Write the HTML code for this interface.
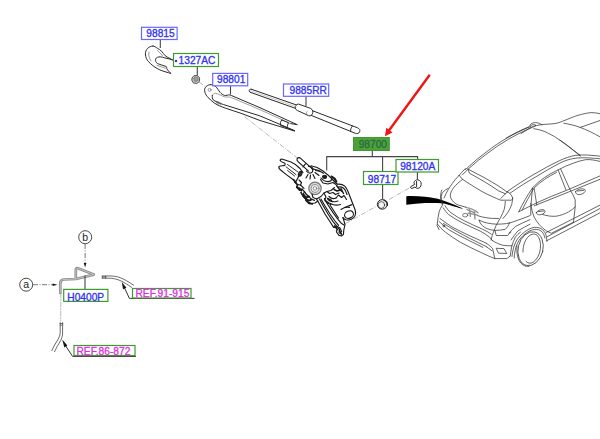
<!DOCTYPE html>
<html>
<head>
<meta charset="utf-8">
<style>
html,body{margin:0;padding:0;background:#fff;}
body{width:600px;height:439px;overflow:hidden;position:relative;font-family:"Liberation Sans",sans-serif;}
svg{position:absolute;left:0;top:0;}
text{font-family:"Liberation Sans",sans-serif;font-size:10.2px;}
.bl{stroke:#3030f2;stroke-width:0.3;}
.mg{stroke:#e22be2;stroke-width:0.3;}
.bl{fill:#3030f2;}
.mg{fill:#e22be2;}
.bb{fill:#fff;stroke:#6868ff;stroke-width:1.2;}
.gb{fill:#fff;stroke:#3f9a30;stroke-width:1.2;}
.ln{fill:none;stroke:#2a2a2a;stroke-width:1;stroke-linecap:round;stroke-linejoin:round;}
.lt{fill:none;stroke:#555;stroke-width:0.6;stroke-linecap:round;stroke-linejoin:round;}
.dd{fill:none;stroke:#888;stroke-width:0.6;stroke-dasharray:5 1.5 1 1.5;}
.ld{fill:none;stroke:#444;stroke-width:1.1;}
</style>
</head>
<body>
<svg width="600" height="439" viewBox="0 0 600 439">
<!-- CAP 98815 -->
<g class="ln">
<path d="M153 46C149 46 145.2 49.5 145.4 54C145.6 58 147 60 148.7 61.8C151.5 64.8 154 66.8 157.3 68.6C160.5 70.3 163.5 71.3 166 72C168 72.6 169.5 73 170.7 73.3"/>
<path d="M153 46C154.8 46.2 156 47.4 157.3 48.2C159 49.2 160.4 50 161.6 51.3C163 52.8 163.8 54.3 165.1 55.6C166.6 57 168.5 57.8 170.3 58.6L172.5 59.9"/>
<path d="M172.5 59.9C170.5 59.2 168 58.6 166 58.2C163.5 57.6 161.5 56.6 159 56.9C156.6 57.2 155.3 58.6 155.5 60.4C155.8 62.3 156.8 63.2 158.2 63.8C160.8 64.9 163.5 65.6 166 66.4C167 66.8 166.4 67.8 166.8 68.6C167.6 70.4 169.2 71.8 170.7 73.3"/>
</g>
<g class="lt">
<path d="M157.5 50.5C159.5 52 161 54 162.5 55.8"/>
<path d="M157 65.3C160 66.6 163 67.4 165.5 68.2"/>
<path d="M149 52C148.2 55 149 58 151 61"/>
</g>
<!-- NUT -->
<g>
<path d="M192 78L194 75.6L197.6 75.6L199.7 78L199.3 81.6L196.6 83.6L193.2 82.8L191.8 80.2Z" fill="#c4c4c4" stroke="#555" stroke-width="1"/>
<path d="M193.6 78.4L195.2 77L197.4 77.4L198.2 79.4L197 81.2L194.8 81.2Z" fill="#9c9c9c" stroke="#666" stroke-width="0.6"/>
<path class="dd" d="M199 82L205 86.3"/>
</g>
<!-- ARM 98801 -->
<g class="ln">
<path d="M210.3 84.6C207.3 85 204.4 87.2 204.6 90.3C204.8 92.8 205.8 94.8 207.2 96.4C209.2 98.8 211.6 101.2 214.4 103.1C217.8 105.3 221.6 106.8 225.6 108.2C230.6 110 236 111.6 241 113.3L260 120.5L294.5 131"/>
<path d="M210.3 84.6C212.8 84.6 214.9 85.6 216.4 87.2C217.9 88.8 218.6 90.8 220 92.3C221.3 93.7 222.8 94.9 224.6 95.4C226.3 95.8 228 94.7 229.7 94.9C231 95.1 232 95.8 233 96.2L260 107.7L297 124.6"/>
<path stroke="#777" stroke-width="0.7" d="M212.3 95.4C213 94 214 93.2 215.4 93.3C218.5 93.6 221.5 96 224.6 96.9C226.5 97.4 228.5 96.6 230.3 97.1L260 109.7L290.5 123.6"/>
<path d="M212.3 95.4C212 97.2 212.4 98.8 213.3 100C216.3 102.2 220 103.4 223.6 104.6L260 115.9L294.5 130.6"/>
<path d="M290.9 123.6L297 124.6M294.5 130.8L286.5 127.6"/>
<path d="M281.8 120C280.2 121.5 279.8 123.6 281 125.6"/>
<path d="M281.8 120L288.6 122.8C287.6 124.3 287.2 126 287.6 128L281 125.6"/>
</g>
<g class="lt">
<circle cx="209.6" cy="89.9" r="1.5"/>
<path d="M215.5 101L220.5 102.8L220.3 104.8M217 101.5V103.5M218.6 102.1V104.1"/>
</g>
<path class="dd" d="M244.5 116.6L298 158.5"/>
<!-- BLADE 9885RR -->
<g class="ln">
<path d="M251.3 89.2C249.8 88.9 248.8 90 249.3 91.2C249.6 92 250 92.2 250.6 92.4"/>
<path d="M251.3 89.2L296.5 105"/>
<path d="M250.6 92.4L295.3 108.3"/>
<path d="M312.7 110.8L357.3 127.7C359.8 128.8 360.4 130.2 359.6 131.8C358.8 133.6 357.3 134 355.3 133.3L311.2 115.4"/>
<path d="M352.4 126C351 127.8 350.4 129.5 350.6 131.3"/>
<path d="M298 104.1C296.2 104.4 295 106 295.3 107.9C295.6 109.4 296.4 110 297.4 110.5L308.5 115.6C310.5 116.3 311.8 115.4 312.4 113.8C313.2 111.8 313 109.9 311 108.6Z" fill="#fff"/>
</g>
<g class="lt">
<path d="M251 90.8L295.3 106.5" stroke="#aaa"/>
<path d="M307 111.5C305.8 112.8 306.2 114.2 307 115"/>
</g>
<!-- MOTOR -->
<g class="ln" id="motor" style="stroke-width:1.15;stroke:#1a1a1a">
<!-- fork bracket -->
<path d="M280.3 160.6C280 159.4 281.2 158.8 282.6 159.2L291 162C294 163.2 297 165.5 300 168.5L303 172.5"/>
<path d="M280.3 160.6C280.8 161.8 282.6 162.2 284 162.8C285.4 163.4 285.6 164.8 284.4 165.4C283 166 280.4 165.4 279.2 166.4C278.4 167.6 279.2 169 280.6 170L286 174.4L292.6 179.2L295.4 182.4"/>
<path d="M287.5 164.5L298 172M286 166.8L296 174.6M287.6 170.6L294.6 176" stroke-width="0.9"/>
<path d="M295.4 182.4C297 180 298.6 177 299.4 174"/>
<ellipse cx="300.2" cy="173.8" rx="1.6" ry="2.4" transform="rotate(25 300.2 173.8)" fill="#333"/>
<!-- shaft -->
<path d="M297.2 158.6C298 157.4 299.6 157.4 300.6 158.4L311.8 168.4M297.2 158.6C296.6 159.8 297 160.8 298 161.6L308.5 171.2"/>
<path d="M305.5 163.8L303 166.8M311.8 168.4C313.4 170 312.8 172.4 310.8 173C308.8 173.4 307.4 172.4 306.4 171"/>
<path d="M308.5 166.5C310.5 166 312.8 167.4 313.2 169.6"/>
<!-- ribs radiating -->
<path d="M308 174.5L306 178M310.5 175L310 179M313 174.5L315 178.5M315 172.5L319 175.5M315.5 170.5L320.5 171.5"/>
<!-- upper housing edge -->
<path d="M311 165.8C315 166.4 319.5 168.4 323 171C326.6 173.6 330 176.6 333 180C334.6 181.8 336 183 337.5 184.2"/>
<path d="M313.5 169C317 169.5 320.5 171 323.5 173.2"/>
<ellipse cx="324.6" cy="176.8" rx="2" ry="1.6" fill="#222"/>
<path d="M321 178C322.5 180 325 181.4 328 181.6C330 181.6 331.5 180.4 332 179"/>
<path d="M320.5 179.5L323 183L328 184L333 182.5L336 184.5"/>
<path d="M331.5 176.5C333.5 177.4 335.6 179.6 336.4 181.6" stroke-width="2"/>
<!-- left lower body -->
<path d="M295.4 182.4L297.6 184.6L296.4 187.4L299.6 190.4L302 189L304.4 191.6L303.4 194L306 197L309 196.4L311 199L314.5 200.4"/>
<path d="M299 180L301.5 182.5L300.5 185L304 188.4"/>
<path d="M297.6 184.6L300.5 185M299.6 190.4L302 189" />
<path d="M304.4 191.6C305.4 193.6 307.4 195.8 309.6 196.8M303.4 194C302.8 195.6 303.8 197.4 305.6 197.8C307.2 198 308.4 197.4 309 196.4" stroke-width="1.3"/>
<path d="M306 197L307 201L311 203.5L315 203L318 201"/>
<!-- gear -->
<circle cx="315" cy="188.4" r="6.2" stroke="#777" stroke-width="1.2" fill="#ddd"/>
<circle cx="315" cy="188.4" r="4" stroke="#888" stroke-width="0.9" fill="#eee"/>
<circle cx="315" cy="188.4" r="1.8" stroke="#777" stroke-width="0.8" fill="#fff"/>
<path d="M312 194L313 197.5L316.5 199L321 196.5L324 193L327 191.5L331 190.5L334.5 187.5"/>
<!-- middle junction -->
<path d="M324 193L326 197L324.5 200L327 203L331 204.5"/>
<path d="M327 191.5L329.5 193.5L333 192.5L335.5 194.5L339 193"/>
<path d="M329 196.5C331 198.5 334 199 336 198M328 199.5C330 201.5 334.5 202.5 338 201M330.5 203.5C333 205 337 205.5 340.5 204.5" stroke-width="1.2"/>
<path d="M336 198L338.5 195L341.5 197.5L344 195.5L346.5 199.5"/>
<path d="M334 189.5L337 191L340.5 190L342 191.5" stroke-width="1.4"/>
<!-- motor can -->
<path d="M337.5 184.2C340 183.8 343 184.6 345 186.4C346.6 188 347.4 190 348.2 192L355 209.5C356 212.5 355.6 215.6 353.6 217.6C351.6 219.6 348.6 220.4 346 219.8C344.6 219.4 343.6 218.6 343 217.6"/>
<path d="M338.5 187C341.5 186.6 344 188 345.4 190.6L347 194.5"/>
<path d="M341 188.5L343.5 193.5M336.5 185.5L340 190" stroke-width="1.4"/>
<path d="M344.5 207.5L352 204.6M330 205L338.5 218"/>
<ellipse cx="349" cy="214.6" rx="4.6" ry="3.6" transform="rotate(-25 349 214.6)"/>
<path d="M341 209.5C343 208 346.5 207 349.5 207.4"/>
<!-- lower bracket -->
<path d="M316.5 199L320 205L325 214L330.5 222.5L333.6 227.4L335.4 227L337 229.4L336.4 232L339 235.4L341.6 236L343.4 234.4L343.8 230L345 224.5L343 217.6"/>
<path d="M319.5 199L323 205.5L328 214L333 221.6L337 226.4L340 228L341.6 231.6"/>
<path d="M324.5 198.5L328 205L333 212.6L338 219.4L341.6 223.6L344 225"/>
<path d="M321 199L325 206L330 214L335 221L338.6 225.4"/>
<path d="M333.6 227.4L337.4 226.6L339.6 229.6L339 232.6L341.4 234.4"/>
<path d="M301 192.5C302 195 304 197.6 306.6 199.4C308.6 200.6 310.6 200.4 311.6 199.4" stroke-width="1.7"/>
<path d="M297 186.5L299.8 189.6M294.8 182L297.4 184.8" stroke-width="1.6"/>
<path d="M327.5 198.5L331.5 200.5M326 201L329 203" stroke-width="1.5"/>
<path d="M334.6 225.8L337.6 229.6M339.4 230.6L341.4 233.6" stroke-width="1.4"/>
<path d="M303.6 196.4L306.4 199.8M305.8 200.2L309 203.4L312.4 203.8" stroke-width="1.7"/>
<path d="M293.6 179.6L296 182.4M299.4 188L301.6 190.8" stroke-width="1.5"/>
</g>
<path class="dd" d="M345.5 223.5L376 206.5M389 199.5L412 186.5"/>
<!-- GROMMET / SCREW / SWOOSH -->
<g class="ln">
<ellipse cx="382.3" cy="204.4" rx="5" ry="4.8" fill="#f2f2f2"/>
<ellipse cx="381.4" cy="205" rx="3.3" ry="3.4" stroke-width="0.7"/>
<path d="M384 200.2C386.4 201 387.6 203 387.4 205.4" stroke-width="1.3"/>
<path d="M414 182.4C414.4 180.6 416 179.6 417.8 179.8C420 180.2 421.4 182 421.2 184.4C421 186.6 419.6 188.2 417.8 188.4C416.6 188.4 415.6 187.8 415 187L412 188.4C411 188.6 410.2 187.6 410.8 186.6L414.4 184.6Z" fill="#fff"/>
<path d="M416.6 181.4V186.6"/>
</g>
<path d="M406.3 196.2C412.5 196 418.8 196.2 425 196.7C431 197.2 436.5 198.2 441.7 200C446.5 201.6 451 203.3 455 205C458 206.4 461 207.6 463.5 208.8C460.5 208.4 457.8 207.4 455 206.7C450.6 205.4 446.2 203.8 441.7 203.3C436.2 202.8 430.6 202.8 425 203C418.8 203.3 412.5 204 406.3 204.7Z" fill="#000"/>
<!-- CAR -->
<g class="car" fill="none" stroke="#333" stroke-width="0.75" stroke-linecap="round" stroke-linejoin="round">
<!-- antenna -->
<path d="M529.8 125.6C530.4 123.6 533 122.4 535.6 122.6C538.4 122.8 540.8 123.6 541.9 124.8M530.2 126.2C531.4 124.6 534 124.2 536 125.2L533.6 127"/>
<!-- roof top line -->
<path d="M521 133.6L530.9 127.4C534.5 126 538.2 125 541.9 124.6C546.9 124 552 124.2 556.9 123.2C560.8 122.2 564.3 120.5 567.9 119.1C572.3 117.3 576.8 115.4 581.5 114.4C584.6 113.6 587.8 112.8 591.1 112.6C594 112.5 597 113 600 113.7"/>
<path d="M563.8 123.2C569.2 124.2 575 125.4 580.2 127.4C587 130 593.8 133.2 600 136.9M580.2 127.4L600 120.5"/>
<path d="M533.7 128.7C538.4 129.4 543.2 130.6 547.4 132.8C552.4 135.2 556.9 137.8 561 141C565 144 568.6 146.6 572 149.2C574.8 151.4 577.6 153.8 580.2 156"/>
<path d="M559.8 140C564.6 143.2 569.2 146.6 573.5 150.3L580.3 155.4"/>
<!-- left roof rail -->
<path d="M532.3 127.4C524 130.8 516 134.8 508.4 139.3C501.2 143.4 494.4 148 487.9 153C481.2 157.8 475 163 469 168.4C466.6 170.6 464.2 172.8 462.2 175"/>
<path d="M530.4 126.6C522.4 129.8 514.6 133.6 507 138C500 142 493.2 146.6 486.8 151.6C480 156.6 473.6 162 467.6 167.6L465.2 169.8"/>
<path d="M529 126.8C521 130 513.4 133.8 506 138.2"/>
<!-- spoiler -->
<path d="M468 169.1C473.2 172 478.6 174.6 483.8 177.4C489 180.2 494 183.2 498.8 186.2L507.7 192.4"/>
<path d="M468 169.1L469.4 173.2C474.4 176 479.6 178.8 484.6 181.8C489.4 184.8 494.2 187.8 498.8 191L505.6 193.8"/>
<path d="M459.1 175.3L462.6 179.4C468.6 183.4 474.8 187.2 481 191C485 193.2 489 195.2 492.8 196.8C495.4 198 498 199.2 500.7 200.2L511 200.2C512.2 199.8 512.8 199 512.7 198C512 196.2 511 194.6 509.9 193.4L507.6 191.7"/>
<path d="M507.6 191.7L500.7 198.5M459.1 175.3L465.3 168.5"/>
<!-- right roof rail -->
<path d="M507.7 191.3C516.2 185.2 525 179.6 534.2 174.2C542.4 169.4 551 164.6 559.8 160.5C564.8 158.2 570 156.4 575.2 155.4C583.4 154.4 591.8 155.2 600 156.2"/>
<path d="M510.3 193C518.6 187.2 527 181.8 535.9 176.8C543.6 172 551.6 167.4 559.8 163.1C565.2 160.4 571 158.6 576.9 158C584.6 157.4 592.4 158 600 158.8"/>
<!-- rear window / left body -->
<path d="M459.1 175.3C456.6 177.8 454.2 180.6 452.3 183.5C450.8 185.6 449.4 187.6 448.2 189.7C446.6 192.4 445.2 195 444.1 197.9"/>
<path d="M448.2 188.3C446.2 189.4 444.2 190.6 442.7 192.4C441.6 194 441.2 196 441.4 197.9C441.6 200.2 442 202.6 442.7 204.7"/>
<path d="M462.6 179.4C459.4 181.8 456.2 184.4 453.7 187.6C452 190 450.6 192.4 450.3 195.1C450.2 197.8 451.8 200.2 453.7 202C455 203.4 456.6 204.4 458.2 205L466 207.2"/>
<path d="M505.3 201.4C505.2 204 504.8 206.8 504.2 209.4C503.2 212.2 502 214.8 500.7 217.3C499.2 220 497.6 222.6 496.2 225.3C494.8 228.6 493.4 232 492.2 235.5L491.1 240"/>
<path d="M512.7 198C512.6 200.4 512.2 202.6 511.6 204.8C510.6 207.6 509.2 210.4 507.6 212.8C506.2 214.8 504.6 216.8 503 218.5"/>
<path d="M477.4 215.6C480.6 216.6 483.8 217.4 487.1 217.9C490.8 218.4 494.6 218.6 498.5 218.5"/>
<!-- tailgate lower -->
<path d="M441.8 190C440.8 192.8 440.4 195.6 440.5 198.2C440.8 200.6 441.6 202.8 442.5 205C441 207.2 439.8 209.4 439.1 211.9C438.2 216.4 437.4 221 437.1 225.6L439.1 229.7"/>
<path d="M443.2 207.8C444.8 210.4 446.6 212.6 448.7 214.6C453 217.8 457.6 220.4 462.4 222.8C468.2 225.8 474.2 228.4 480.1 231C483.4 232.8 486.6 234.8 489.7 237.2L492.4 240.6"/>
<path d="M445 205.6C446.6 208.4 448.6 210.8 451 212.8C455.4 216 460 218.6 464.8 221C470.6 224 476.6 226.6 482.5 229.2C485.6 230.6 488.6 232.2 491.4 234.2"/>
<path d="M439.1 221.5C442.2 224.4 445.4 227.2 448.7 229.7C455.4 233.6 462.2 237.2 469.2 240.6L482.9 247.4"/>
<path d="M440.1 218.6C444 221.6 448 224.4 452.1 227C457.6 230 463.4 232.8 469.2 235.5L486.3 243.2"/>
<path d="M443.5 223.5C451.8 228.8 460.4 233.6 469.2 238.1L486.3 246.6"/>
<circle cx="443.8" cy="226" r="0.9"/>
<!-- tail light -->
<path d="M479.1 220.2C481.6 221.4 484.4 222.4 487.1 223C490 223.6 493.2 224 496.2 224.2C499.6 224.2 503 224 506.4 223.6L509.3 223"/>
<path d="M479.1 220.2L480.2 223C481.4 224.8 483 226.4 484.8 227.6C488 229.2 491.4 230.2 495 230.4C498.4 230.4 502 230 505.3 229.3C507.2 227.6 508.6 225.4 509.3 223"/>
<path d="M509.3 223C512.2 222.2 515 221.4 517.8 220.2C522 218.8 526 217.2 530 215.6"/>
<!-- bumper -->
<path d="M437.6 224.4C439.8 227.2 442.4 229.8 445.3 232.1C450.2 235.8 455.4 239.2 460.6 242.4C467.4 246 474.2 249.4 481.2 252.6C485.6 254.8 490.2 256.8 494.8 258.6L506.8 258.6L510.2 256"/>
<path d="M486.3 243.2C488.6 244.8 490.8 246.4 492.6 248.4L494.8 258.6M486.3 246.6L492 250.8"/>
<path d="M496.5 248.3L504 248.6L506.8 253.5L499 253.2Z"/>
<path d="M492.4 240.6C495.6 242.6 499 244.2 502.6 245.2C505.8 245.8 509 245.8 511.9 245.8"/>
<path d="M510.2 256C510.6 252.6 511.2 249.2 511.9 245.8C512.8 242.8 514 240 515.3 237.2C516.8 235.2 518.6 233.6 520.5 232.1"/>
<path d="M495 230.4L496.2 235.5L507.6 235.5C508.8 234.4 510 233.2 511 232.1"/>
<path d="M508.7 233.3C511 231 513.2 228.6 515.5 226.4C520.2 224 525 221.8 530 219.6"/>
<path d="M511 240C513.2 236.8 515.4 233.8 517.8 231C521.8 228.6 525.8 226.2 530 224.2"/>
<!-- wheel arch -->
<path d="M512 256.4C512.4 251.6 513.6 247 515.4 242.7C517.4 238.6 520.4 235 523.9 232.5C527 230 530.4 228 534.2 227.4C537.4 227 540.6 228 542.7 229.9C544.6 231.4 545.6 233.6 546.2 235.9L547 241"/>
<path d="M514.2 258C514.4 253 515.4 248.2 517.2 243.8C519.2 239.6 522 236 525.4 233.6C528.2 231.4 531.4 229.8 534.8 229.4C537.6 229.2 540.2 230 542 231.8C543.6 233.4 544.4 235.6 544.8 238"/>
<!-- wheel -->
<ellipse cx="530.6" cy="248.7" rx="12.4" ry="17.2" transform="rotate(14 530.6 248.7)"/>
<path d="M517 246C516.4 251 517 256.2 519 260.4C521.2 264.6 525 267 529 266.4" />
<path d="M523 252C522.8 245.6 525 239.6 529 236C531.6 233.8 534.8 233.4 537 235.2C540 238 541 243.4 540.4 248.8C539.6 254.6 537 259.8 533 262.4C530.4 263.8 527.8 263.4 526 261.4"/>
<!-- sills -->
<path d="M546.2 241L600 212.8M547 236.8L600 208.5M546.2 232.5L600 205.1"/>
<!-- side window frame -->
<path d="M518.8 211.8C520.6 207.6 522.8 203.6 525.2 199.6C527.4 195.6 529.8 191.6 532.5 187.9C536 184 540 180.6 544.4 177.6C548.8 174.6 553.4 172.2 558.1 169.9C563 167.2 568.2 165 573.5 163.1C577.4 161.6 581.4 160.4 585.5 159.7C590.2 159.2 595.2 160.2 600 161.4"/>
<path d="M522.2 210C524 206 526 202 528.4 198.2C530.2 194.6 532 191.2 534.2 187.9C540.4 181.6 548.2 176.6 556.4 172.5"/>
<path d="M518.8 211.8L522.2 210C531.6 205 541.4 200.6 551.3 196.4L568.4 189.6L600 175.9"/>
<path d="M534.2 205.8L568.4 192.1L600 179.3"/>
<path d="M558.1 169.9L565.8 189.6M560.7 169.1L570 189.6C572 192.8 573.8 196.2 575.2 199.8V206.8L573.5 222.2"/>
<path d="M532.5 187.9L530.8 206.7V215M534.2 188.7L536.8 205"/>
<!-- door details -->
<path d="M530.8 203.4C531.4 208.2 532.4 212.8 534.2 217.1C537 222.6 541.2 227.4 546.2 230.8L551.3 233.3L573.5 222.2"/>
<path d="M542.7 214.5C547.2 216 551.8 216.6 556.4 216.2C560.6 215.4 564.8 214 568.4 212C571 210.6 573.4 208.8 575.2 206.8"/>
<path d="M536.4 212.4C537.6 210.6 540 209.6 542.4 209.6C544.2 209.6 545.4 210.6 545 212C544.2 213.6 542 214.6 539.6 214.8C537.8 214.8 536.2 214 536.4 212.4Z"/>
<path d="M575.6 191.6C577 189.8 579.6 188.8 582.2 188.8C584.4 188.8 585.8 189.8 585.2 191.4C584.2 193.2 581.8 194.4 579.2 194.6C577 194.6 575.2 193.6 575.6 191.6Z"/>
<path d="M538 211.6L543.6 211M577.4 191L583.6 190.4"/>
<!-- c pillar / body -->
</g>
<!-- wiper on car -->
<g fill="none" stroke="#8a8a8a" stroke-width="1.3" stroke-linecap="round">
<path d="M465.5 207.4C469 207.8 472.4 209 475.4 210.8L478 212.8M467 209.6L475 212.8M469.6 209.6L470.4 216.4M474.4 211.8L475 219M468 213.2L477 214.8"/>
<ellipse cx="465.2" cy="215.2" rx="2.6" ry="1.8" stroke="#444" stroke-width="0.7"/>
</g>
<!-- HOSES -->
<g fill="none" stroke-linecap="round" stroke-linejoin="round">
<path d="M60.3 293V283.4C60.3 281 61.4 279.6 63.6 279.5L75.8 279V270C75.8 268.2 77 267.8 78.6 268.4L93.8 274.6L76 279" stroke="#8c8c8c" stroke-width="2.7"/>
<path d="M60.3 293V283.4C60.3 281 61.4 279.6 63.6 279.5L75.8 279V270C75.8 268.2 77 267.8 78.6 268.4L93.8 274.6L76 279" stroke="#d0d0d0" stroke-width="0.8"/>
<path class="dd" d="M60.8 293V321"/>
<!-- lower hose -->
<path d="M60.2 322.5V325.5M62.6 322.5V325.5M60 323.5H62.8M60 325H62.8" stroke="#444" stroke-width="0.7"/>
<path d="M60.2 326V333C60 337 57 341 54.6 345L51.8 350.6" stroke="#444" stroke-width="0.8"/>
<path d="M62.6 326V334C62.4 338.6 59.4 342.6 57.2 346.4L54.6 351.6" stroke="#444" stroke-width="0.8"/>
<!-- right hose -->
<path d="M102 276.2H106M102 278H106M102.4 275.8V278.4M104 275.8V278.4M105.6 275.8V278.4" stroke="#444" stroke-width="0.7"/>
<path d="M106 276C110 275.8 114 276 117.6 276.8C122 278 126 280.4 129.6 282.6L133.6 285.2" stroke="#444" stroke-width="0.8"/>
<path d="M106 278.2C110 278 113.6 278.4 117 279.4C121 280.6 125 283 128.4 285.2L131.6 287.4" stroke="#444" stroke-width="0.8"/>
</g>
<!-- ref leaders -->
<g>
<path d="M194.5 298.4H129.4L123.4 285.4" fill="none" stroke="#333" stroke-width="1"/>
<path d="M121.8 282L126.4 287.8L123 289.3Z" fill="#111"/>
<path d="M136 356.4H72.6L64.6 344.4" fill="none" stroke="#333" stroke-width="1"/>
<path d="M62.2 339.6L67.4 345.4L64.4 347.4Z" fill="#111"/>
</g>
<!-- LEADERS -->
<g class="ld">
<path d="M160.3 39.5V48"/>
<path d="M197.3 66.5V75.5"/>
<path d="M230.5 86V94.5"/>
<path d="M306 96.5V106"/>
<path d="M372.3 151V156.6M326.7 170.5V156.6H417.6V160M382.6 156.6V172M382.6 184.5V199M417.4 172V179.4"/>
<path d="M85 289V275.4"/>
</g>
<!-- LABELS -->
<g id="labels">
<rect class="bb" x="141.5" y="27.3" width="35.6" height="12.2"/>
<text class="bl" x="146.3" y="36.6">98815</text>
<rect class="gb" x="173.5" y="53.5" width="45" height="13"/>
<text class="bl" x="178.6" y="63.8">1327AC</text>
<rect class="bb" x="212.7" y="73.4" width="35" height="12.4"/>
<text class="bl" x="217" y="83.4">98801</text>
<rect class="bb" x="283.5" y="84" width="45.2" height="12.3"/>
<text class="bl" x="289.5" y="94">9885RR</text>
<rect x="353.5" y="137.5" width="35.8" height="13" fill="#4ba336" stroke="#419732" stroke-width="1"/>
<text x="358.7" y="148.2" fill="#2b6a48" stroke="#2b6a48" stroke-width="0.3">98700</text>
<rect class="gb" x="363.5" y="171.5" width="34.5" height="13"/>
<text class="bl" x="367.8" y="183">98717</text>
<rect class="gb" x="396" y="159.5" width="42.5" height="12.5"/>
<text class="bl" x="400.2" y="170.4">98120A</text>
<rect class="gb" x="63.7" y="289.4" width="44.2" height="12"/>
<text class="bl" x="67.3" y="300.5">H0400P</text>
<rect class="gb" x="132.5" y="288.5" width="58.5" height="9.5"/>
<text class="mg" x="135.5" y="297.1">REF.91-915</text>
<rect class="gb" x="74" y="345.5" width="61" height="10"/>
<text class="mg" x="76.5" y="354.8">REF.86-872</text>
<circle cx="176" cy="61" r="1.2" fill="#2a2af0"/>
</g>
<!-- RED ARROW -->
<g>
<path d="M429.8 74.7L387.5 132.5" stroke="#f01414" stroke-width="2.4" fill="none"/>
<path d="M384.9 136.3L386.3 127.8L392.6 132.4Z" fill="#f01414"/>
</g>
<!-- CIRCLES a b -->
<g>
<circle cx="85.2" cy="237.2" r="6.5" fill="#fff" stroke="#333" stroke-width="0.9"/>
<text x="82.3" y="240.8" fill="#222" style="font-size:10.5px">b</text>
<circle cx="26.2" cy="284.7" r="6.5" fill="#fff" stroke="#333" stroke-width="0.9"/>
<text x="23.3" y="288" fill="#222" style="font-size:10.5px">a</text>
<path class="dd" d="M85.1 244V264" style="stroke:#555;stroke-width:0.8"/>
<path d="M85.1 267.6L83.8 263H86.4Z" fill="#111"/>
<path class="dd" d="M33 284.7H53" style="stroke:#555;stroke-width:0.8"/>
<path d="M57.4 284.7L52.6 283.4V286Z" fill="#111"/>
</g>
</svg>
</body>
</html>
